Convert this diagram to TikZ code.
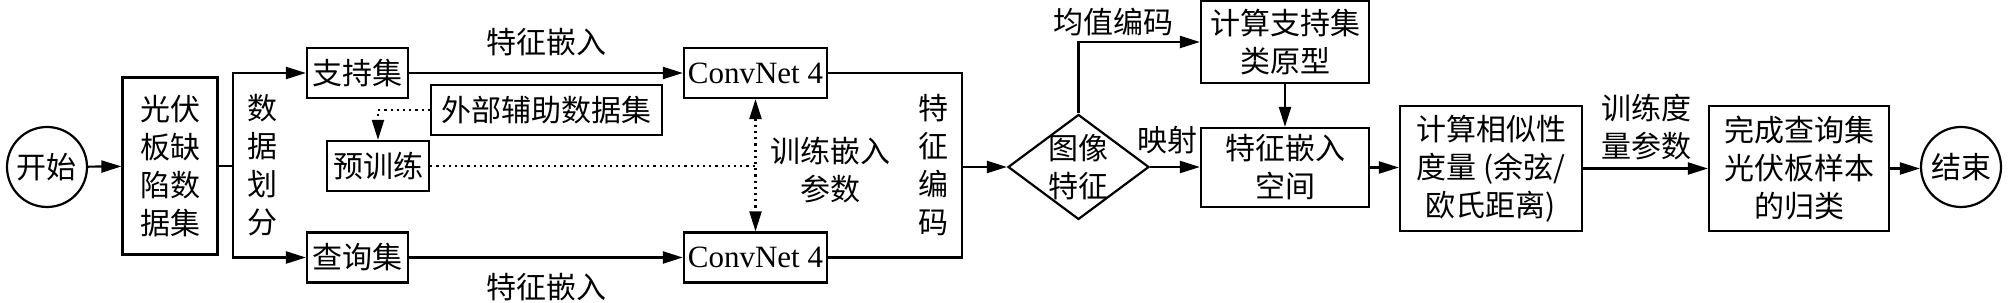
\documentclass[tikz,border=0pt]{standalone}
\usepackage{fontspec}
\setmainfont{Liberation Serif}
\newfontfamily\cjk{Noto Sans CJK SC}
\usetikzlibrary{arrows.meta,shapes.geometric}

\begin{document}
\begin{tikzpicture}[x=0.5pt,y=-0.5pt,>={Triangle[length=10pt,width=6pt]},line width=1.1pt,
  box/.style={draw,inner sep=2pt,align=center,font=\cjk\fontsize{15}{19}\selectfont},
  txt/.style={inner sep=0pt,align=center,font=\cjk\fontsize{15}{19}\selectfont},
  net/.style={draw,inner sep=2pt,minimum width=71.5pt,minimum height=25pt,font=\rmfamily\fontsize{15.5}{19}\selectfont}]
\useasboundingbox (0,0) rectangle (2008,303);
\node[box,circle,inner sep=0pt,minimum size=40pt] (start) at (47,167) {开始};
\node[box,minimum width=47.5pt,minimum height=88.5pt] (data) at (170,166) {光伏\\板缺\\陷数\\据集};
\node[txt] (splitlbl) at (262,165) {数\\据\\划\\分};
\coordinate (split) at (233,166);
\node[box,minimum width=50.5pt,minimum height=25pt] (support) at (357.5,73) {支持集};
\node[box,minimum width=50.5pt,minimum height=25pt] (query) at (357.5,257.5) {查询集};
\node[box,minimum width=51pt,minimum height=25pt] (pretrain) at (378,166) {预训练};
\node[box,minimum width=115.5pt,minimum height=25pt] (extra) at (546.5,110) {外部辅助数据集};
\node[net] (conv1) at (755.5,73) {ConvNet 4};
\node[net] (conv2) at (755.5,257.5) {ConvNet 4};
\node[txt] (emb1) at (546,42) {特征嵌入};
\node[txt] (emb2) at (546,287) {特征嵌入};
\node[txt] (param) at (830,170) {训练嵌入\\参数};
\node[txt] (codelbl) at (933,165) {特\\征\\编\\码};
\coordinate (merge) at (962,167);
\node[box,diamond,inner sep=-6pt,minimum width=70.5pt,minimum height=52.5pt] (feat) at (1078.5,167) {图像\\特征};
\node[box,minimum width=84pt,minimum height=41pt] (proto) at (1285,42) {计算支持集\\类原型};
\node[box,minimum width=84pt,minimum height=39.5pt] (space) at (1285,167.5) {特征嵌入\\空间};
\node[txt] (meanlbl) at (1113,22) {均值编码};
\node[txt] (maplbl) at (1167,140) {映射};
\node[box,minimum width=91pt,minimum height=62.5pt] (sim) at (1491,168.5) {计算相似性\\度量 (余弦/\\欧氏距离)};
\node[txt] (metric) at (1646,127) {训练度\\量参数};
\node[box,minimum width=90pt,minimum height=62.5pt] (done) at (1799,168.5) {完成查询集\\光伏板样本\\的归类};
\node[box,circle,inner sep=0pt,minimum size=40pt] (finish) at (1961,167) {结束};
% main flow
\draw[->] (start) -- (data);
\draw (data.east) -- (split);
\draw[->] (split) |- (support.west);
\draw[->] (split) |- (query.west);
\draw[->] (support) -- (conv1);
\draw[->] (query) -- (conv2);
\draw[dotted,->] (extra.west) -| (pretrain.north);
\draw[dotted] (pretrain.east) -- (pretrain.east -| conv1.south);
\draw[dotted,<->] (conv1.south) -- (conv2.north);
\draw (conv1.east) -| (merge) |- (conv2.east);
\draw[->] (merge) -- (feat.west);
\draw[->] (feat.north) |- (proto.west);
\draw[->] (proto) -- (space);
\draw[->] (feat.east) -- (feat.east -| space.west);
\draw[->] (space.east) -- (space.east -| sim.west);
\draw[->] (sim.east) -- (sim.east -| done.west);
\draw[->] (done.east) -- (done.east -| finish.west);
\end{tikzpicture}
\end{document}
